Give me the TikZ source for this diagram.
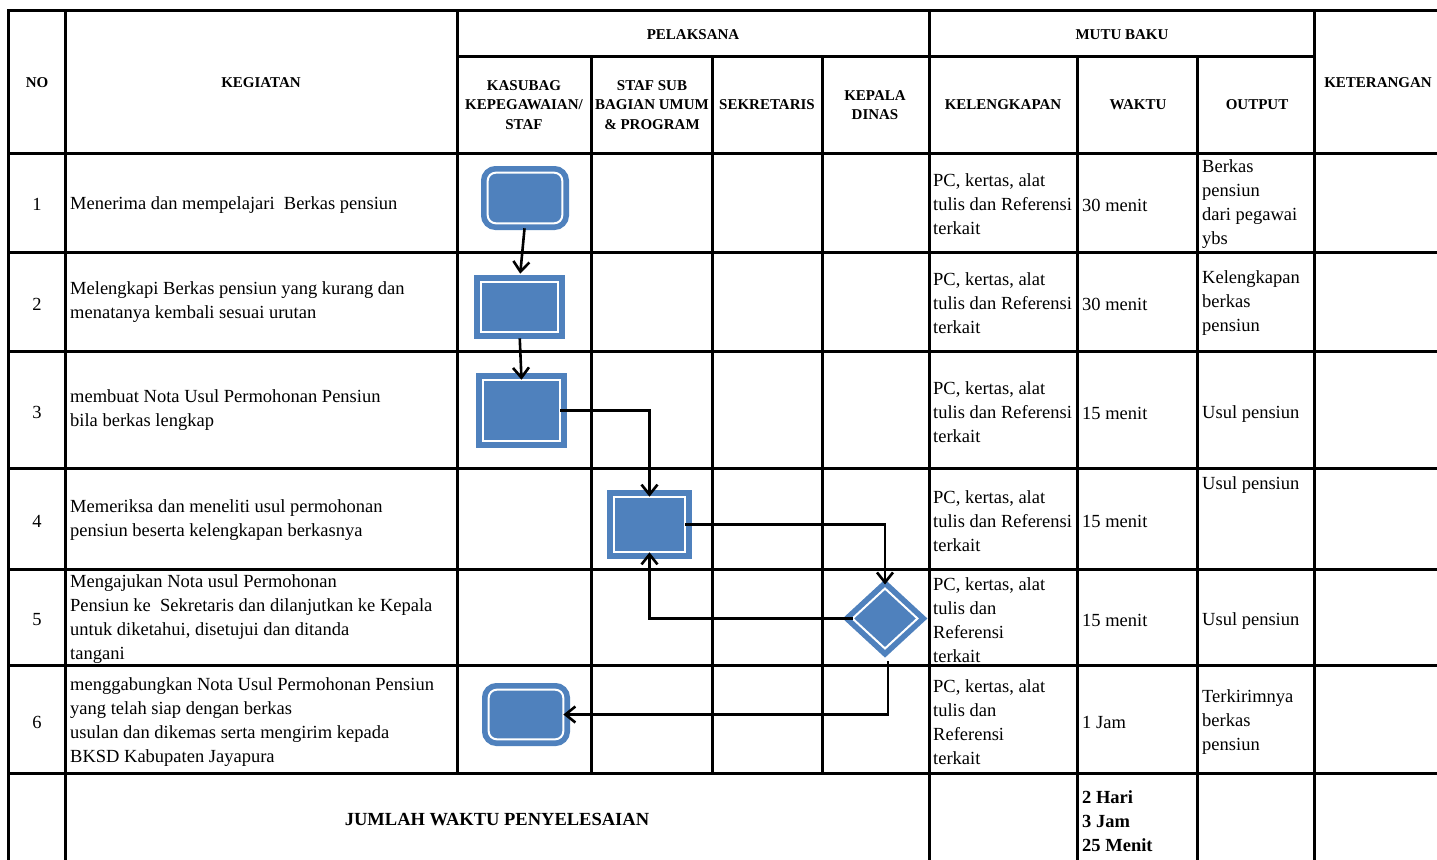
\documentclass[tikz,border=0pt]{standalone}
\usepackage{fontspec}
\setmainfont{Liberation Serif}
\usetikzlibrary{arrows.meta,shapes.geometric}
\definecolor{accent}{HTML}{4F81BD}
\newcommand\txfont{\fontsize{18.5}{24}\selectfont}
\newcommand\hdfont{\fontsize{15}{19.5}\selectfont\bfseries}
\newcommand\sumfont{\fontsize{18.5}{24}\selectfont\bfseries}
\tikzset{
  gridline/.style={line width=3pt, line cap=rect},
  hd/.style={font=\hdfont, align=center, inner sep=0pt},
  tx/.style={font=\txfont, align=left, inner sep=0pt, anchor=west},
  num/.style={font=\txfont, inner sep=0pt},
  sumtx/.style={font=\sumfont, align=left, inner sep=0pt},
  proc/.style={rectangle, fill=accent, draw=accent, double=white, double distance=2pt,
    line width=5.7pt, inner sep=0pt, outer sep=0pt},
  term/.style={proc, rounded corners=8pt},
  dec/.style={diamond, fill=accent, draw=accent, double=white, double distance=2pt,
    line width=5.7pt, inner sep=0pt, outer sep=0pt},
  conn/.style={line width=2.6pt, -{Straight Barb[length=10pt,width=16pt,line width=2.6pt]}}
}
\begin{document}
\begin{tikzpicture}[x=1pt,y=-1pt]
\useasboundingbox (0,0) rectangle (1437,859);
\fill[white] (0,0) rectangle (1437,859);

% grid
\draw[gridline] (8,11) -- (1445,11);
\draw[gridline] (457,57) -- (1314,57);
\foreach \yy in {153,252,351,468,569,665,773}
  \draw[gridline] (8,\yy) -- (1445,\yy);
\foreach \xx in {8,65,929,1314}
  \draw[gridline] (\xx,11) -- (\xx,865);
\draw[gridline] (457,11) -- (457,773);
\foreach \xx in {591,712,822}
  \draw[gridline] (\xx,57) -- (\xx,773);
\foreach \xx in {1077,1197}
  \draw[gridline] (\xx,57) -- (\xx,865);

% header
\node[hd] (hno) at (37,83) {NO};
\node[hd] (hkeg) at (261,83) {KEGIATAN};
\node[hd] (hpel) at (693,35) {PELAKSANA};
\node[hd] (hkas) at (524,105) {KASUBAG\\KEPEGAWAIAN/\\STAF};
\node[hd] (hstaf) at (652,105) {STAF SUB\\BAGIAN UMUM\\\& PROGRAM};
\node[hd] (hsek) at (767,105) {SEKRETARIS};
\node[hd] (hkep) at (875,105) {KEPALA\\DINAS};
\node[hd] (hmutu) at (1122,35) {MUTU BAKU};
\node[hd] (hkel) at (1003,105) {KELENGKAPAN};
\node[hd] (hwak) at (1138,105) {WAKTU};
\node[hd] (hout) at (1257,105) {OUTPUT};
\node[hd] (hket) at (1378,83) {KETERANGAN};

% row 1
\node[num] (n1) at (37,204) {1};
\node[tx] (k1) at (70,205) {Menerima dan mempelajari\ \ Berkas pensiun};
\node[tx] (l1) at (933,204) {PC, kertas, alat\\tulis dan Referensi\\terkait};
\node[tx] (w1) at (1082,205) {30 menit};
\node[tx] (o1) at (1202,204) {Berkas\\pensiun\\dari pegawai\\ybs};
% row 2
\node[num] (n2) at (37,304) {2};
\node[tx] (k2) at (70,302) {Melengkapi Berkas pensiun yang kurang dan\\menatanya kembali sesuai urutan};
\node[tx] (l2) at (933,303) {PC, kertas, alat\\tulis dan Referensi\\terkait};
\node[tx] (w2) at (1082,304) {30 menit};
\node[tx] (o2) at (1202,303) {Kelengkapan\\berkas\\pensiun};
% row 3
\node[num] (n3) at (37,412) {3};
\node[tx] (k3) at (70,410) {membuat Nota Usul Permohonan Pensiun\\bila berkas lengkap};
\node[tx] (l3) at (933,412) {PC, kertas, alat\\tulis dan Referensi\\terkait};
\node[tx] (w3) at (1082,413) {15 menit};
\node[tx] (o3) at (1202,414) {Usul pensiun};
% row 4
\node[num] (n4) at (37,521) {4};
\node[tx] (k4) at (70,520) {Memeriksa dan meneliti usul permohonan\\pensiun beserta kelengkapan berkasnya};
\node[tx] (l4) at (933,521) {PC, kertas, alat\\tulis dan Referensi\\terkait};
\node[tx] (w4) at (1082,521) {15 menit};
\node[tx] (o4) at (1202,485) {Usul pensiun};
% row 5
\node[num] (n5) at (37,620) {5};
\node[tx] (k5) at (70,619) {Mengajukan Nota usul Permohonan\\Pensiun ke\ \ Sekretaris dan dilanjutkan ke Kepala\\untuk diketahui, disetujui dan ditanda\\tangani};
\node[tx] (l5) at (933,620) {PC, kertas, alat\\tulis dan\\Referensi\\terkait};
\node[tx] (w5) at (1082,620) {15 menit};
\node[tx] (o5) at (1202,621) {Usul pensiun};
% row 6
\node[num] (n6) at (37,722) {6};
\node[tx] (k6) at (70,722) {menggabungkan Nota Usul Permohonan Pensiun\\yang telah siap dengan berkas\\usulan dan dikemas serta mengirim kepada\\BKSD Kabupaten Jayapura};
\node[tx] (l6) at (933,722) {PC, kertas, alat\\tulis dan\\Referensi\\terkait};
\node[tx] (w6) at (1082,722) {1 Jam};
\node[tx] (o6) at (1202,722) {Terkirimnya\\berkas\\pensiun};
% total
\node[sumtx] (sum) at (497,820) {JUMLAH WAKTU PENYELESAIAN};
\node[sumtx, anchor=west] (tot) at (1082,821) {2 Hari\\3 Jam\\25 Menit};

% shapes
\node[term, minimum width=74.6pt, minimum height=50.6pt] (s1) at (525,198) {};
\node[proc, minimum width=77.6pt, minimum height=50.6pt] (s2) at (519.5,307) {};
\node[proc, minimum width=77.6pt, minimum height=61.6pt] (s3) at (521.5,410.5) {};
\node[proc, minimum width=71.6pt, minimum height=55.6pt] (s4) at (649.5,524.5) {};
\node[dec, minimum width=65pt, minimum height=60pt] (d5) at (885,618.5) {};
\node[term, minimum width=74.6pt, minimum height=49.6pt] (s6) at (526,714.5) {};
\coordinate (d5b) at (888,661);

% connectors
\draw[conn, shorten <=5pt, shorten >=8pt] (s1.south) -- (s2.north);
\draw[conn, shorten <=6pt] (s2.south) -- (s3.north);
\draw[conn] (s3.east) -| (s4.north);
\draw[conn, shorten >=4pt] (s4.east) -| (d5.north);
\draw[conn] (d5.west) -| (s4.south);
\draw[conn] (d5b) |- (s6.east);
\end{tikzpicture}
\end{document}
